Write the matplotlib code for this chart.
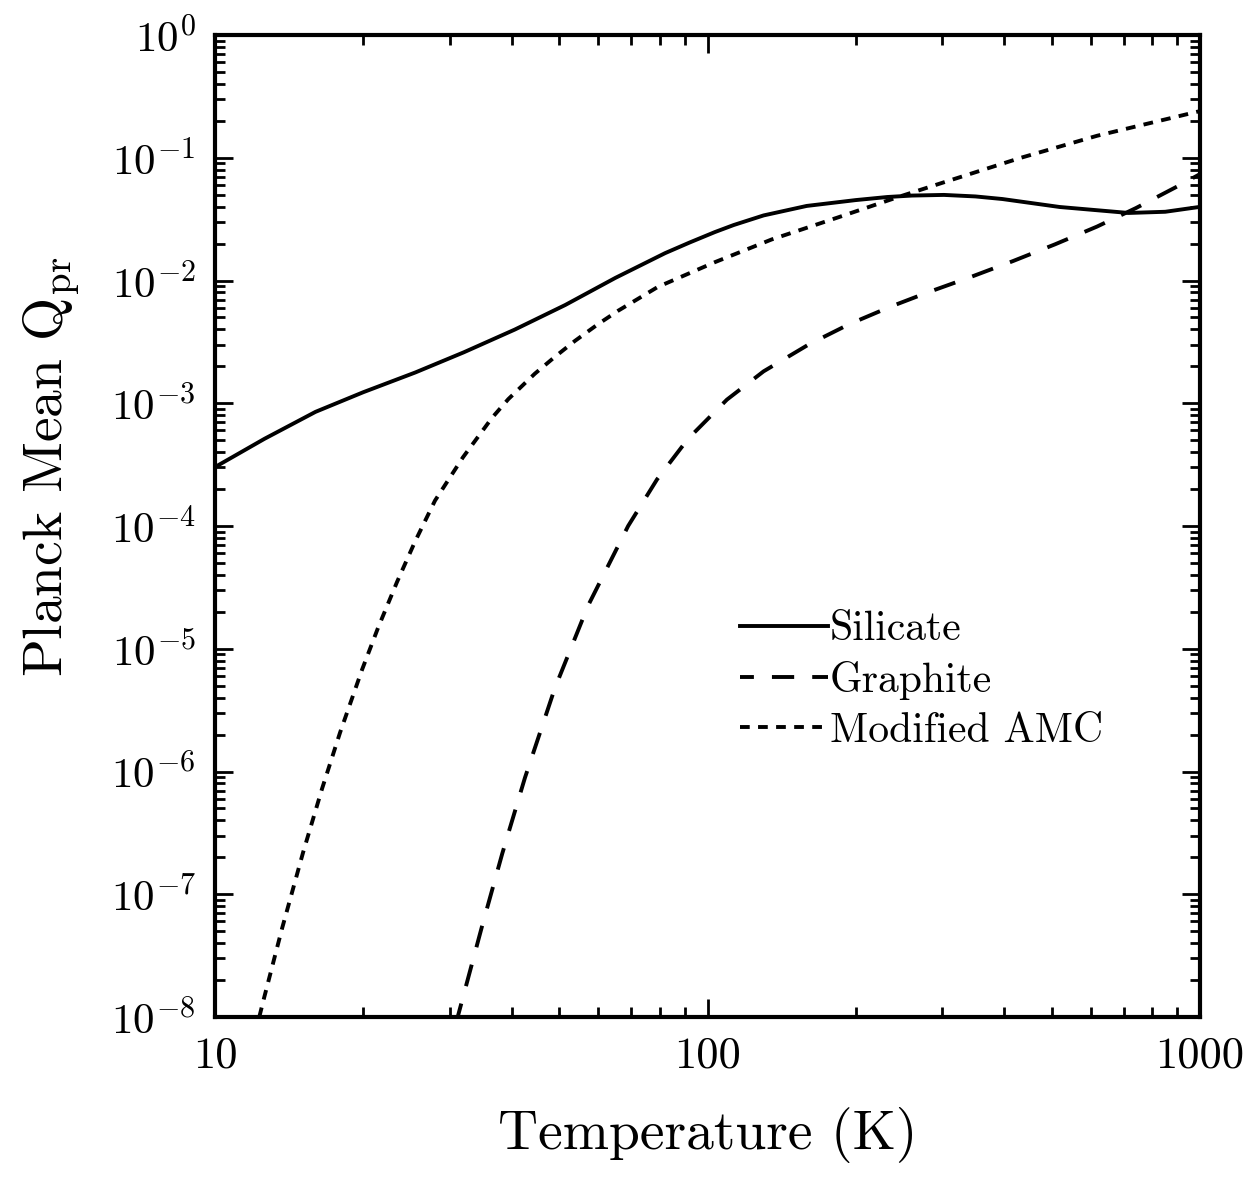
import numpy as np
import matplotlib
matplotlib.use("Agg")
import matplotlib.pyplot as plt
from matplotlib.ticker import LogLocator, NullFormatter, FixedLocator, FixedFormatter

# style: computer modern look, ticks inside on every side
plt.rcParams['font.family'] = ['cmr10', 'DejaVu Serif']
plt.rcParams['mathtext.fontset'] = 'cm'
plt.rcParams['axes.unicode_minus'] = False
plt.rcParams['axes.formatter.use_mathtext'] = True
plt.rcParams['lines.scale_dashes'] = False

# data (temperature in K, Planck mean Q_pr)
silicate_T = [10, 12.6, 16, 20, 25.5, 32, 40.6, 51.4, 65, 82, 92, 103.5, 113, 130,
              159, 200, 232, 260, 302, 350, 397, 519, 716, 850, 1000]
silicate_Q = [3.02e-4, 5.13e-4, 8.51e-4, 1.23e-3, 1.78e-3, 2.60e-3, 3.98e-3, 6.31e-3,
              1.05e-2, 1.67e-2, 2.04e-2, 2.48e-2, 2.83e-2, 3.39e-2, 4.05e-2, 4.52e-2,
              4.79e-2, 4.92e-2, 4.98e-2, 4.84e-2, 4.61e-2, 3.97e-2, 3.55e-2, 3.63e-2,
              3.98e-2]

graphite_T = [31.1, 34.8, 38.3, 42.6, 49.0, 57.2, 69.0, 79.0, 91.3, 109.5, 130,
              160.7, 193.8, 235.8, 281.7, 342.8, 417.2, 507.6, 617.9, 741, 919, 1000]
graphite_Q = [1.0e-8, 5.37e-8, 2.14e-7, 8.91e-7, 4.79e-6, 2.24e-5, 1.0e-4, 2.40e-4,
              5.13e-4, 1.07e-3, 1.82e-3, 3.02e-3, 4.40e-3, 6.14e-3, 8.07e-3, 1.07e-2,
              1.44e-2, 1.97e-2, 2.75e-2, 3.89e-2, 6.11e-2, 7.36e-2]

amc_T = [12.3, 12.52, 13.68, 15.09, 16.49, 17.94, 19.89, 21.43, 23.42, 25.47, 27.97,
         31.88, 36.5, 39.4, 44.6, 49.0, 53.8, 59.9, 65.8, 79.3, 103.5, 135, 183, 244,
         302, 433, 618, 1000]
amc_Q = [1.0e-8, 1.33e-8, 5.25e-8, 2.18e-7, 7.21e-7, 2.07e-6, 6.76e-6, 1.48e-5,
         3.50e-5, 7.45e-5, 1.61e-4, 3.63e-4, 7.59e-4, 1.08e-3, 1.74e-3, 2.39e-3,
         3.22e-3, 4.40e-3, 5.66e-3, 8.87e-3, 1.41e-2, 2.16e-2, 3.24e-2, 4.79e-2,
         6.31e-2, 1.0e-1, 1.51e-1, 2.40e-1]

x_ticks = [10, 100, 1000]
x_tick_labels = ['10', '100', '1000']

fig = plt.figure(figsize=(12.55, 11.78), dpi=100)
ax = fig.add_axes([215 / 1255, 1 - 1017 / 1178, 985 / 1255, 982 / 1178])

ax.plot(silicate_T, silicate_Q, color='black', lw=2.8, label='Silicate')
ax.plot(graphite_T, graphite_Q, color='black', lw=2.8, ls=(6, (16, 13)), label='Graphite')
ax.plot(amc_T, amc_Q, color='black', lw=2.8, ls=(0, (7, 6)), label='Modified AMC')

ax.set_xscale('log')
ax.set_yscale('log')
ax.set_xlim(10, 1000)
ax.set_ylim(1e-8, 1)

ax.xaxis.set_major_locator(FixedLocator(x_ticks))
ax.xaxis.set_major_formatter(FixedFormatter(x_tick_labels))
ax.xaxis.set_minor_locator(LogLocator(base=10, subs=np.arange(2, 10), numticks=50))
ax.xaxis.set_minor_formatter(NullFormatter())
ax.yaxis.set_major_locator(LogLocator(base=10, numticks=20))
ax.yaxis.set_minor_locator(LogLocator(base=10, subs=np.arange(2, 10), numticks=200))
ax.yaxis.set_minor_formatter(NullFormatter())

ax.tick_params(which='both', direction='in', top=True, right=True, width=2)
ax.tick_params(which='major', length=13, pad=14)
ax.tick_params(axis='x', which='major', labelsize=32)
ax.tick_params(axis='y', which='major', labelsize=31)
ax.tick_params(which='minor', length=7)
for sp in ax.spines.values():
    sp.set_linewidth(3)

ax.set_xlabel('Temperature (K)', fontsize=40, labelpad=22)
ax.set_ylabel(r'Planck Mean $\mathrm{Q_{pr}}$', fontsize=40)
ax.yaxis.set_label_coords(-0.135, 0.56)

ax.legend(loc='center left', bbox_to_anchor=(0.533, 0.343), frameon=False,
          fontsize=30, handlelength=2.1, handletextpad=0.05, borderpad=0,
          borderaxespad=0, labelspacing=0.3)

fig.savefig('out.png', dpi=100)
